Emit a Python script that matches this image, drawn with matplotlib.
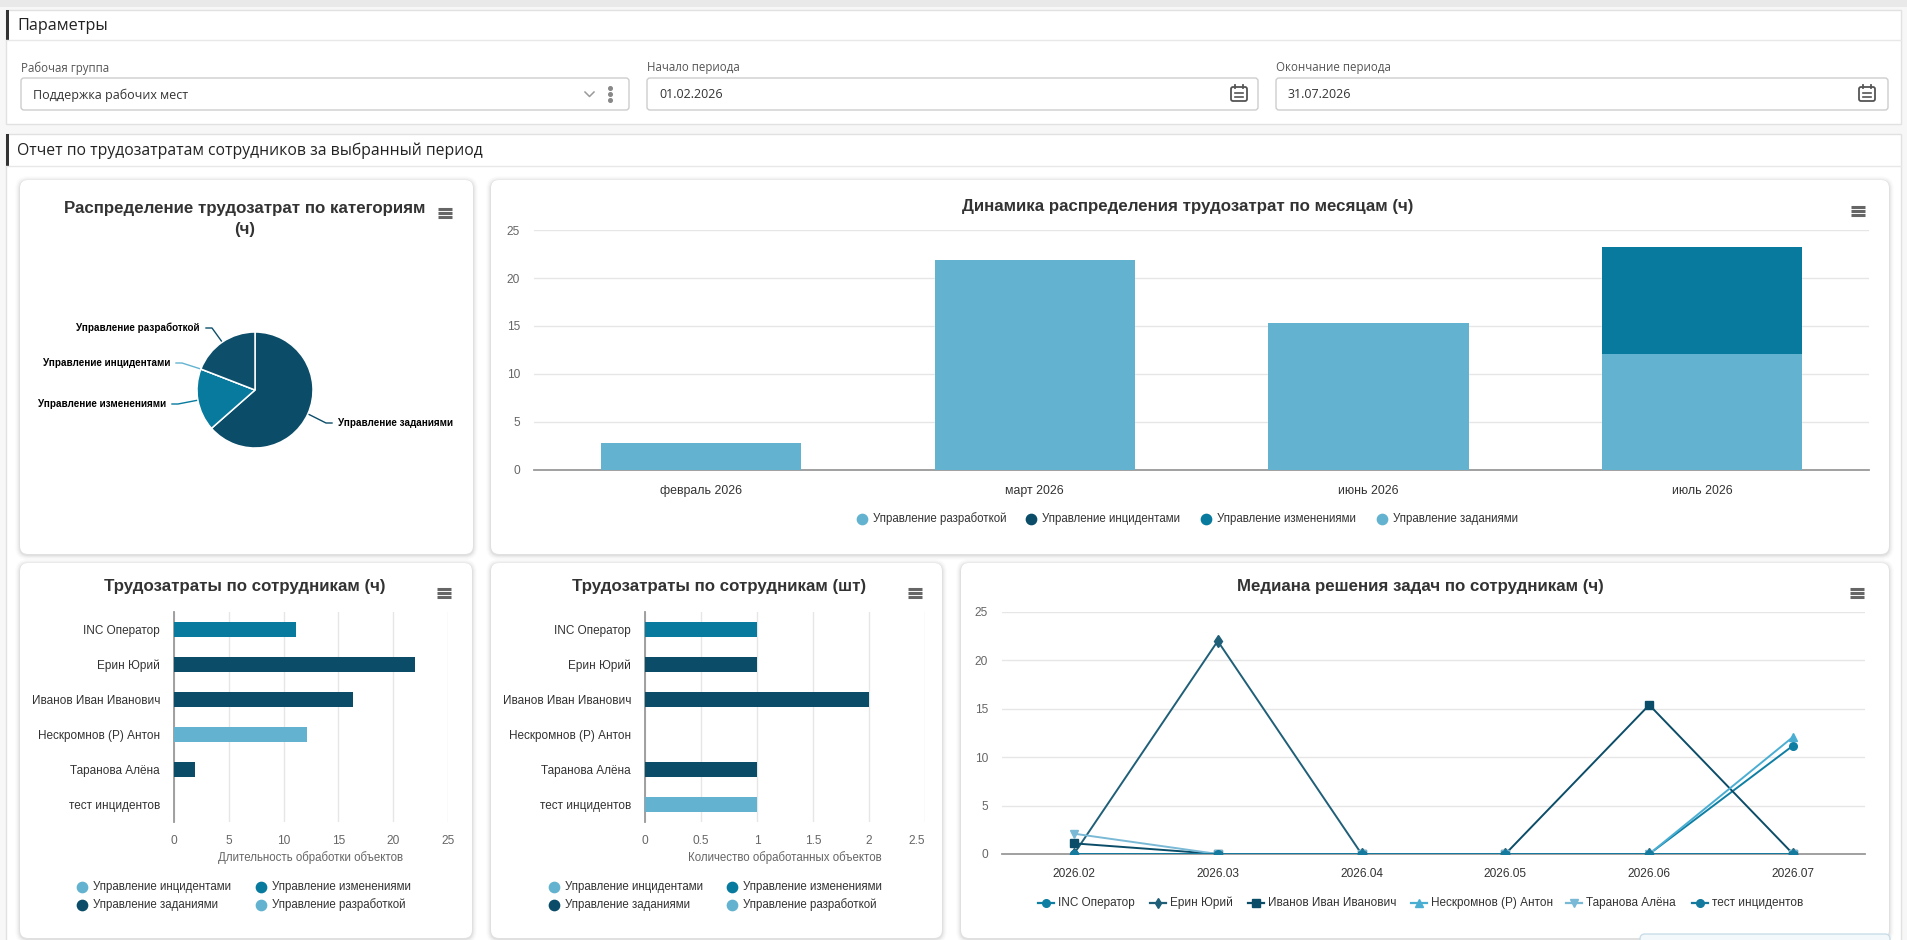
import numpy as np
import matplotlib.pyplot as plt
from matplotlib.patches import FancyBboxPatch, Rectangle

plt.rcParams['font.family'] = ['Liberation Sans', 'DejaVu Sans']

W, H = 1907, 940

# ---- data ----
pie_labels = ['Управление заданиями', 'Управление изменениями', 'Управление инцидентами', 'Управление разработкой']
pie_values = [40.2, 11.0, 0.0, 12.1]
pie_colors = ['#0b4d68', '#077a9e', '#63b3d0', '#0d4f6a']

months = ['февраль 2026', 'март 2026', 'июнь 2026', 'июль 2026']
month_series = ['Управление разработкой', 'Управление инцидентами', 'Управление изменениями', 'Управление заданиями']
month_razrab = [0, 0, 0, 12.1]
month_incid = [0, 0, 0, 0]
month_izmen = [0, 0, 0, 11.1]
month_zadan = [2.8, 21.9, 15.3, 0]
month_colors = ['#63b3d0', '#0b4d68', '#077a9e', '#63b3d0']

employees = ['INC Оператор', 'Ерин Юрий', 'Иванов Иван Иванович', 'Нескромнов (Р) Антон', 'Таранова Алёна', 'тест инцидентов']
emp_series = ['Управление инцидентами', 'Управление изменениями', 'Управление заданиями', 'Управление разработкой']
emp_colors = ['#63b3d0', '#077a9e', '#0b4d68', '#63b3d0']
hours_incid = [0, 0, 0, 0, 0, 0]
hours_izmen = [11.1, 0, 0, 0, 0, 0]
hours_zadan = [0, 22.0, 16.3, 0, 1.9, 0]
hours_razrab = [0, 0, 0, 12.1, 0, 0]
count_incid = [0, 0, 0, 0, 0, 1]
count_izmen = [1, 0, 0, 0, 0, 0]
count_zadan = [0, 1, 2, 0, 1, 0]
count_razrab = [0, 0, 0, 0, 0, 0]

periods = ['2026.02', '2026.03', '2026.04', '2026.05', '2026.06', '2026.07']
median_inc = [0, 0, 0, 0, 0, 11.2]
median_erin = [0, 22.0, 0, 0, 0, 0]
median_ivanov = [1.1, 0, 0, 0, 15.4, 0]
median_nesk = [0, 0, 0, 0, 0, 12.1]
median_taran = [2.1, 0, 0, 0, 0, 0]
median_test = [0, 0, 0, 0, 0, 0]
median_markers = ['o', 'd', 's', '^', 'v', 'o']
median_colors = ['#0f7ea3', '#1f5f78', '#0b4d68', '#4aaed3', '#7ab9d6', '#147a9e']

TXT = '#333333'
AX = '#666666'
GRID = '#e6e6e6'
UI = ['Open Sans', 'DejaVu Sans']

fig = plt.figure(figsize=(W / 100, H / 100), dpi=100)
fig.patch.set_facecolor('#f7f7f7')
bg = fig.add_axes([0, 0, 1, 1])
bg.set_xlim(0, W)
bg.set_ylim(H, 0)
bg.axis('off')


def add_ax(x0, y0, x1, y1):
    return fig.add_axes([x0 / W, 1 - y1 / H, (x1 - x0) / W, (y1 - y0) / H])


def rbox(x0, y0, x1, y1, fc='white', ec='none', lw=1, r=4, z=2, alpha=1):
    bg.add_patch(FancyBboxPatch((x0, y0), x1 - x0, y1 - y0,
                                boxstyle=f'round,pad=0,rounding_size={r}',
                                fc=fc, ec=ec, lw=lw, zorder=z, alpha=alpha))


def card(x0, y0, x1, y1):
    for s, a in [(5, 0.012), (4, 0.016), (3, 0.022), (2, 0.03), (1, 0.04)]:
        rbox(x0 - s, y0 - s + 1, x1 + s, y1 + s + 1, fc='black', r=8 + s, z=3, alpha=a)
    rbox(x0, y0, x1, y1, fc='white', r=8, z=4)


def menu_icon(x, y):
    for dy in (-4, 0, 4):
        bg.plot([x - 7, x + 7], [y + dy, y + dy], color='#666666', lw=2.2, zorder=6,
                solid_capstyle='butt')


def calendar_icon(x, y):
    rbox(x - 8, y - 7, x + 8, y + 7, fc='none', ec='#555555', lw=1.3, r=2, z=6)
    bg.plot([x - 4, x - 4], [y - 9, y - 6], color='#555555', lw=1.3, zorder=6)
    bg.plot([x + 4, x + 4], [y - 9, y - 6], color='#555555', lw=1.3, zorder=6)
    bg.plot([x - 4, x + 4], [y - 1, y - 1], color='#555555', lw=1.2, zorder=6)
    bg.plot([x - 4, x + 4], [y + 3, y + 3], color='#555555', lw=1.2, zorder=6)


# ---- page frame ----
bg.add_patch(Rectangle((0, 0), W, 7, fc='#e9e9e9', ec='none', zorder=1))
bg.add_patch(Rectangle((6, 10), 1895, 114, fc='white', ec='#e1e1e1', lw=1, zorder=2))
bg.add_patch(Rectangle((6, 10), 2.5, 30, fc='#333333', ec='none', zorder=3))
bg.plot([6, 1901], [40, 40], color='#e8e8e8', lw=1, zorder=3)
bg.text(17, 26, 'Параметры', fontsize=11.6, color='#222222', va='center', family=UI, zorder=5)

fields = [('Рабочая группа', 'Поддержка рабочих мест', 21, 629),
          ('Начало периода', '01.02.2026', 647, 1258),
          ('Окончание периода', '31.07.2026', 1276, 1888)]
for lab, val, x0, x1 in fields:
    bg.text(x0, 68, lab, fontsize=8.3, color='#555555', va='center', family=UI, zorder=5)
    rbox(x0, 78, x1, 110, fc='white', ec='#cdcdcd', lw=1, r=3, z=4)
    bg.text(x0 + 12, 95, val, fontsize=9.0, color=TXT, va='center', family=UI, zorder=5)
bg.plot([585, 589.5, 594], [92, 96.5, 92], color='#9a9a9a', lw=1.1, zorder=6)
for dy in (-6, 0, 6):
    bg.plot([610], [94 + dy], marker='o', ms=2.6, color='#888888', zorder=6)
calendar_icon(1239, 94)
calendar_icon(1867, 94)

bg.add_patch(Rectangle((6, 134), 1895, 815, fc='white', ec='#e1e1e1', lw=1, zorder=2))
bg.add_patch(Rectangle((6, 134), 2.5, 32, fc='#333333', ec='none', zorder=3))
bg.plot([6, 1901], [166, 166], color='#e8e8e8', lw=1, zorder=3)
bg.text(17, 151, 'Отчет по трудозатратам сотрудников за выбранный период', fontsize=11.3,
        color='#222222', va='center', family=UI, zorder=5)

card(20, 180, 473, 554)
card(491, 180, 1889, 554)
card(20, 563, 472, 938)
card(491, 563, 942, 938)
card(961, 563, 1889, 938)
rbox(1640, 934, 1890, 950, fc='#f3f8fb', ec='#c9dde8', lw=1, r=5, z=5)

for x, y in [(445, 213), (1858, 211), (444, 593), (915, 593), (1857, 593)]:
    menu_icon(x, y)

title_kw = dict(fontsize=12.2, fontweight='bold', color=TXT, ha='center', va='center', zorder=6)
bg.text(245, 219, 'Распределение трудозатрат по категориям\n(ч)', linespacing=1.5, **title_kw)
bg.text(1188, 207, 'Динамика распределения трудозатрат по месяцам (ч)', **title_kw)
bg.text(245, 587, 'Трудозатраты по сотрудникам (ч)', **title_kw)
bg.text(719, 587, 'Трудозатраты по сотрудникам (шт)', **title_kw)
bg.text(1420, 587, 'Медиана решения задач по сотрудникам (ч)', **title_kw)

# ---- pie ----
cx, cy, r = 255, 390, 58
ax = add_ax(cx - r, cy - r, cx + r, cy + r)
wedges, _ = ax.pie(pie_values, colors=pie_colors, startangle=90, counterclock=False,
                   wedgeprops=dict(edgecolor='white', linewidth=1.1))
ax.set_xlim(-1, 1)
ax.set_ylim(-1, 1)
ax.set_aspect('equal')
ax.axis('off')
label_pos = [(338, 423, 'left'), (166, 404, 'right'), (170, 363, 'right'), (200, 328, 'right')]
for w, lab, col, (lx, ly, ha) in zip(wedges, pie_labels, pie_colors, label_pos):
    mid = np.deg2rad((w.theta1 + w.theta2) / 2)
    ex, ey = cx + r * np.cos(mid), cy - r * np.sin(mid)
    sgn = 1 if ha == 'right' else -1
    bg.plot([lx + sgn * 6, lx + sgn * 12, ex], [ly, ly, ey], color=col, lw=1, zorder=6)
    bg.text(lx, ly, lab, fontsize=7.1, fontweight='bold', color='black', ha=ha, va='center', zorder=6)

# ---- monthly stacked columns ----
ax = add_ax(534, 230, 1869, 470)
xm = np.arange(len(months))
bottom = np.zeros(len(months))
for vals, col in zip([month_razrab, month_incid, month_izmen, month_zadan], month_colors):
    ax.bar(xm, vals, width=0.6, bottom=bottom, color=col, zorder=3)
    bottom += np.array(vals)
ax.set_xlim(-0.5, len(months) - 0.5)
ax.set_ylim(0, 25)
ax.set_yticks(range(0, 26, 5))
ax.set_xticks(xm)
ax.set_xticklabels(months)
ax.yaxis.grid(True, color=GRID, lw=1, zorder=0)
for s in ['top', 'right', 'left']:
    ax.spines[s].set_visible(False)
ax.spines['bottom'].set_color('#999999')
ax.spines['bottom'].set_linewidth(1.3)
ax.tick_params(axis='y', length=0, pad=10, labelsize=8.6, labelcolor=AX)
ax.tick_params(axis='x', length=0, pad=11, labelsize=8.9, labelcolor=TXT)
for name, col, mx in zip(month_series, month_colors, [862, 1031, 1206, 1382]):
    bg.scatter([mx], [519], s=55, color=col, zorder=6)
    bg.text(mx + 11, 519, name, fontsize=8.3, color=TXT, va='center', zorder=6)


# ---- employee horizontal bars ----
def emp_chart(x0, x1, series_vals, xmax, xticks, xlabel, leg_x):
    ax = add_ax(x0, 612, x1, 822)
    y = np.arange(len(employees))
    left = np.zeros(len(employees))
    for vals, col in zip(series_vals, emp_colors):
        ax.barh(y, vals, height=0.45, left=left, color=col, zorder=3)
        left += np.array(vals)
    ax.set_ylim(len(employees) - 0.5, -0.5)
    ax.set_xlim(0, xmax)
    ax.set_yticks(y)
    ax.set_yticklabels(employees)
    ax.set_xticks(xticks)
    ax.set_xticklabels([f'{t:g}' for t in xticks])
    ax.xaxis.grid(True, color=GRID, lw=1, zorder=0)
    for s in ['top', 'right', 'bottom']:
        ax.spines[s].set_visible(False)
    ax.spines['left'].set_color('#999999')
    ax.spines['left'].set_linewidth(1.3)
    ax.tick_params(axis='y', length=0, pad=10, labelsize=8.5, labelcolor=TXT)
    ax.tick_params(axis='x', length=0, pad=9, labelsize=8.6, labelcolor=AX)
    ax.set_xlabel(xlabel, fontsize=8.3, color=AX, labelpad=3)
    for i, (name, col) in enumerate(zip(emp_series, emp_colors)):
        mx = leg_x[i % 2]
        my = 887 if i < 2 else 905
        bg.scatter([mx], [my], s=55, color=col, zorder=6)
        bg.text(mx + 11, my, name, fontsize=8.3, color=TXT, va='center', zorder=6)
    return ax


emp_chart(174, 448, [hours_incid, hours_izmen, hours_zadan, hours_razrab], 25,
          [0, 5, 10, 15, 20, 25], 'Длительность обработки объектов', (82, 261))
ax = emp_chart(645, 925, [count_incid, count_izmen, count_zadan, count_razrab], 2.5,
               [0, 0.5, 1, 1.5, 2, 2.5], 'Количество обработанных объектов', (554, 732))
ax.get_xticklabels()[-1].set_horizontalalignment('right')

# ---- median lines ----
ax = add_ax(1002, 612, 1865, 854)
xp = np.arange(len(periods))
series = [median_inc, median_erin, median_ivanov, median_nesk, median_taran, median_test]
for vals, m, col in zip(series, median_markers, median_colors):
    ms = 6.5 if m == 'd' else 5.5
    ax.plot(xp, vals, color=col, lw=1.4, marker=m, ms=ms, zorder=3)
ax.set_xlim(-0.5, len(periods) - 0.5)
ax.set_ylim(0, 25)
ax.set_yticks(range(0, 26, 5))
ax.set_xticks(xp)
ax.set_xticklabels(periods)
ax.yaxis.grid(True, color=GRID, lw=1, zorder=0)
for s in ['top', 'right', 'left']:
    ax.spines[s].set_visible(False)
ax.spines['bottom'].set_color('#999999')
ax.spines['bottom'].set_linewidth(1.3)
ax.tick_params(axis='y', length=0, pad=10, labelsize=8.6, labelcolor=AX)
ax.tick_params(axis='x', length=0, pad=10, labelsize=8.6, labelcolor=TXT)
for name, m, col, mx in zip(employees, median_markers, median_colors,
                            [1046, 1158, 1256, 1419, 1574, 1700]):
    bg.plot([mx - 8, mx + 8], [903, 903], color=col, lw=1.6, zorder=6)
    bg.plot([mx], [903], marker=m, ms=5.5, color=col, zorder=7)
    bg.text(mx + 12, 903, name, fontsize=8.5, color=TXT, va='center', zorder=6)

fig.savefig('out.png', dpi=100, facecolor=fig.get_facecolor())
